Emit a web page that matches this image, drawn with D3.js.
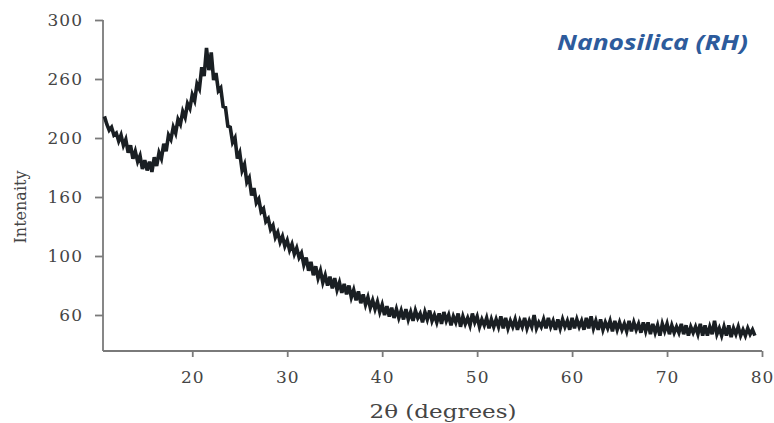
<!DOCTYPE html>
<html>
    <head>
        <meta charset="utf-8">
        <script type="text/javascript" src="https://d3js.org/d3.v7.min.js" charset="utf-8"></script>
        <style>
            body { margin: 0; background: #fff; }
            svg { display: block; }
        </style>
    </head>
    <body>
        <script>
            const WIDTH = 774;
            const HEIGHT = 423;

            const AXIS_LEFT = 103;
            const AXIS_RIGHT = 762;
            const AXIS_BOTTOM = 351;
            const TICK_TOP = 20;
            const TICK_STEP = 59; // px between y labels

            const LINE_COLOR = '#1a1f23';
            const AXIS_COLOR = '#7a7a7a';
            const LABEL_COLOR = '#454545';
            const TITLE_COLOR = '#2d5b9c';
            const SERIF = '"DejaVu Serif", "Liberation Serif", serif';

            // chart texts
            const chartTitle = 'Nanosilica (RH)';
            const xTitle = '2\u03b8 (degrees)';
            const yTitle = 'Intenaity';

            // tick labels as printed in the figure (evenly spaced on the axis)
            const yTickLabels = [60, 100, 160, 200, 260, 300];
            const xTickLabels = [20, 30, 40, 50, 60, 70, 80];
            const xDomain = [10.6, 80];

            // scan grid: 2theta from 10.75 deg, 0.25 deg per reading
            const scanStart = 10.75;
            const scanStep = 0.25;

            // intensity readings, one row per degree
            const intensity = [
                222,
                214, 208, 211, 203,   // 11
                205, 198, 203, 195,   // 12
                199, 190, 195, 186,   // 13
                191, 184, 188, 179,   // 14
                185, 178, 184, 177,   // 15
                187, 181, 190, 186,   // 16
                196, 191, 203, 199,   // 17
                211, 205, 219, 214,   // 18
                227, 221, 235, 230,   // 19
                244, 238, 255, 250,   // 20
                268, 262, 281, 266,   // 21
                278, 259, 264, 248,   // 22
                251, 232, 231, 212,   // 23
                211, 197, 200, 186,   // 24
                190, 178, 182, 170,   // 25
                173, 161, 166, 154,   // 26
                158, 145, 148, 135,   // 27
                138, 127, 131, 119,   // 28
                124, 114, 120, 110,   // 29
                116, 106, 112, 102,   // 30
                108, 99, 103, 94,     // 31
                99, 90, 96, 87,       // 32
                93, 85, 90, 82,       // 33
                87, 80, 86, 78,       // 34
                85, 77, 82, 75,       // 35
                81, 74, 80, 72,       // 36
                77, 70, 76, 68,       // 37
                74, 67, 72, 65,       // 38
                70, 64, 69, 62,       // 39
                67, 60, 66, 59,       // 40
                65, 58, 64, 58,       // 41
                63, 57, 64, 57,       // 42
                62, 56, 63, 58,       // 43
                61, 55, 62, 57,       // 44
                63, 56, 60, 55,       // 45
                61, 54, 62, 56,       // 46
                60, 53, 59, 55,       // 47
                61, 52, 59, 54,       // 48
                58, 53, 61, 55,       // 49
                59, 52, 57, 53,       // 50
                58, 51, 57, 52,       // 51
                57, 52, 59, 51,       // 52
                58, 51, 56, 52,       // 53
                57, 50, 56, 52,       // 54
                58, 51, 56, 52,       // 55
                60, 51, 55, 52,       // 56
                57, 51, 58, 52,       // 57
                56, 50, 57, 51,       // 58
                57, 52, 56, 50,       // 59
                58, 51, 57, 52,       // 60
                56, 50, 58, 51,       // 61
                59, 51, 56, 50,       // 62
                57, 50, 55, 51,       // 63
                56, 49, 56, 50,       // 64
                55, 50, 54, 49,       // 65
                56, 49, 55, 50,       // 66
                54, 48, 55, 49,       // 67
                55, 47, 54, 48,       // 68
                53, 46, 54, 49,       // 69
                54, 47, 53, 48,       // 70
                52, 48, 54, 47,       // 71
                53, 46, 52, 48,       // 72
                52, 47, 54, 46,       // 73
                53, 46, 52, 47,       // 74
                56, 47, 51, 46,       // 75
                52, 46, 53, 45,       // 76
                51, 47, 52, 46,       // 77
                50, 46, 51, 47,       // 78
                50, 46                // 79
            ];

            let svg = d3.select('body')
            .append('svg')
            .attr('width', WIDTH)
            .attr('height', HEIGHT);

            let xScale = d3.scaleLinear()
            .domain(xDomain)
            .range([AXIS_LEFT, AXIS_RIGHT]);

            // the printed labels are not evenly spaced in value, so map them
            // piecewise onto evenly spaced positions
            let yScale = d3.scaleLinear()
            .domain(yTickLabels)
            .range(yTickLabels.map(function(d, i){
                return TICK_TOP + (yTickLabels.length - 1 - i) * TICK_STEP;
            }));

            // axis lines
            svg.append('line')
            .attr('x1', AXIS_LEFT).attr('x2', AXIS_LEFT)
            .attr('y1', TICK_TOP).attr('y2', AXIS_BOTTOM)
            .attr('stroke', AXIS_COLOR)
            .attr('stroke-width', 1.8);
            svg.append('line')
            .attr('x1', AXIS_LEFT).attr('x2', AXIS_RIGHT)
            .attr('y1', AXIS_BOTTOM).attr('y2', AXIS_BOTTOM)
            .attr('stroke', AXIS_COLOR)
            .attr('stroke-width', 1.8);

            let yAxis = svg.append('g')
            .attr('transform', 'translate(' + AXIS_LEFT + ',0)')
            .call(d3.axisLeft(yScale)
                .tickValues(yTickLabels)
                .tickSize(8)
                .tickSizeOuter(0)
                .tickPadding(12));

            let xAxis = svg.append('g')
            .attr('transform', 'translate(0,' + AXIS_BOTTOM + ')')
            .call(d3.axisBottom(xScale)
                .tickValues(xTickLabels)
                .tickSize(6)
                .tickSizeOuter(0)
                .tickPadding(14));

            svg.selectAll('.domain').remove();
            svg.selectAll('.tick line')
            .attr('stroke', AXIS_COLOR)
            .attr('stroke-width', 1.8);
            svg.selectAll('.tick text')
            .style('font-family', SERIF)
            .style('font-size', '17px')
            .style('letter-spacing', '1px')
            .attr('fill', LABEL_COLOR);

            // diffraction pattern
            let line = d3.line()
            .x(function(d, i){ return xScale(scanStart + i * scanStep); })
            .y(function(d){ return yScale(d); });

            svg.append('path')
            .datum(intensity)
            .attr('d', line)
            .attr('fill', 'none')
            .attr('stroke', LINE_COLOR)
            .attr('stroke-width', 3.6)
            .attr('stroke-linejoin', 'miter');

            // titles
            svg.append('text')
            .attr('x', 443)
            .attr('y', 418)
            .attr('text-anchor', 'middle')
            .attr('textLength', 147)
            .attr('lengthAdjust', 'spacingAndGlyphs')
            .style('font-family', SERIF)
            .style('font-size', '18px')
            .attr('fill', LABEL_COLOR)
            .text(xTitle);

            svg.append('text')
            .attr('transform', 'translate(26,207) rotate(-90)')
            .attr('text-anchor', 'middle')
            .attr('textLength', 73)
            .attr('lengthAdjust', 'spacingAndGlyphs')
            .style('font-family', SERIF)
            .style('font-size', '17px')
            .attr('fill', LABEL_COLOR)
            .text(yTitle);

            svg.append('text')
            .attr('x', 748)
            .attr('y', 50)
            .attr('text-anchor', 'end')
            .attr('textLength', 191)
            .attr('lengthAdjust', 'spacingAndGlyphs')
            .style('font-family', '"Open Sans", sans-serif')
            .style('font-size', '21px')
            .style('font-weight', 'bold')
            .style('font-style', 'italic')
            .attr('fill', TITLE_COLOR)
            .text(chartTitle);
        </script>
    </body>
</html>
